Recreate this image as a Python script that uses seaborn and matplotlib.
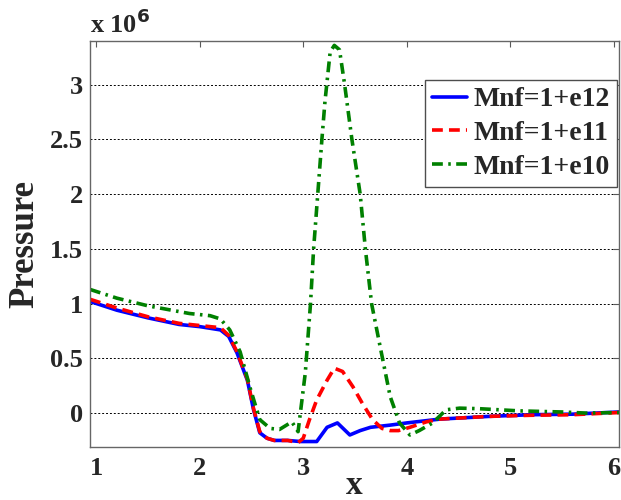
import numpy as np
import pandas as pd
import matplotlib
matplotlib.use('Agg')
import matplotlib.pyplot as plt
import seaborn as sns

# Pressure values in units of 1e6
x_e12 = [0.94, 1.2, 1.5, 1.8, 2.0, 2.2, 2.28, 2.36, 2.46, 2.52, 2.58, 2.65, 2.72, 2.85,
         2.97, 3.05, 3.13, 3.23, 3.33, 3.45, 3.55, 3.65, 3.84, 4.0, 4.32, 4.8, 5.2, 5.6, 6.05]
p_e12 = [1.02, 0.94, 0.87, 0.81, 0.79, 0.76, 0.70, 0.55, 0.30, 0.03, -0.18, -0.23, -0.25, -0.25,
         -0.26, -0.26, -0.26, -0.13, -0.09, -0.20, -0.16, -0.13, -0.11, -0.09, -0.055, -0.03,
         -0.015, -0.01, 0.01]

x_e11 = [0.94, 1.2, 1.5, 1.8, 2.0, 2.2, 2.28, 2.36, 2.46, 2.52, 2.58, 2.65, 2.72, 2.85, 2.95,
         3.0, 3.06, 3.13, 3.23, 3.30, 3.38, 3.48, 3.57, 3.67, 3.76, 3.84, 3.92, 4.03, 4.19, 4.32,
         4.8, 5.2, 5.6, 6.05]
p_e11 = [1.04, 0.96, 0.88, 0.82, 0.80, 0.78, 0.71, 0.56, 0.31, 0.04, -0.17, -0.23, -0.25, -0.25,
         -0.27, -0.23, -0.06, 0.12, 0.30, 0.41, 0.38, 0.24, 0.09, -0.06, -0.14, -0.16, -0.16,
         -0.13, -0.08, -0.055, -0.03, -0.02, -0.015, 0.005]

x_e10 = [0.94, 1.2, 1.5, 1.9, 2.1, 2.2, 2.29, 2.39, 2.49, 2.58, 2.68, 2.77, 2.89, 2.95, 3.02,
         3.07, 3.10, 3.14, 3.18, 3.21, 3.26, 3.30, 3.35, 3.40, 3.47, 3.55, 3.60, 3.66, 3.74,
         3.84, 3.93, 4.03, 4.12, 4.25, 4.38, 4.51, 4.70, 5.09, 5.5, 5.73, 6.05]
p_e10 = [1.13, 1.05, 0.98, 0.91, 0.89, 0.86, 0.76, 0.56, 0.22, -0.06, -0.14, -0.15, -0.08, -0.17,
         0.37, 1.0, 1.5, 2.0, 2.5, 2.85, 3.30, 3.36, 3.32, 3.0, 2.5, 2.0, 1.5, 1.0, 0.62, 0.15,
         -0.09, -0.20, -0.16, -0.09, 0.03, 0.045, 0.04, 0.02, 0.01, 0.0, 0.005]

labels = ['Mnf=1+e12', 'Mnf=1+e11', 'Mnf=1+e10']
x_ticks = [1, 2, 3, 4, 5, 6]
x_tick_labels = ['1', '2', '3', '4', '5', '6']
y_ticks = [0, 0.5, 1, 1.5, 2, 2.5, 3]
y_tick_labels = ['0', '0.5', '1', '1.5', '2', '2.5', '3']

sns.set_style('white')
plt.rcParams['font.family'] = ['Liberation Serif', 'DejaVu Serif']
plt.rcParams['font.weight'] = 'bold'

fig = plt.figure(figsize=(6.21, 5.0), dpi=100)
ax = fig.add_axes([90 / 621, 1 - 447 / 500, 529 / 621, 406 / 500])

series = [
    (x_e12, p_e12, labels[0], 'blue', '-'),
    (x_e11, p_e11, labels[1], 'red', (0, (3.0, 1.7))),
    (x_e10, p_e10, labels[2], 'green', (0, (3.0, 1.5, 0.7, 1.5))),
]
for xs, ps, lab, col, ls in series:
    df = pd.DataFrame({'x': xs, 'p': ps})
    sns.lineplot(data=df, x='x', y='p', ax=ax, color=col, linestyle=ls,
                 linewidth=2.6, label=lab, sort=False)

ax.set_xlim(0.94, 6.05)
ax.set_ylim(-0.31, 3.40)
ax.set_xticks(x_ticks)
ax.set_xticklabels(x_tick_labels)
ax.set_yticks(y_ticks)
ax.set_yticklabels(y_tick_labels)
ax.tick_params(axis='both', direction='in', length=4, width=0.8, color='0.35',
               top=True, right=True, labelsize=19)
ax.tick_params(axis='y', pad=5)
ax.tick_params(axis='x', pad=7)
for lab in ax.get_xticklabels() + ax.get_yticklabels():
    lab.set_fontweight('bold')
for sp in ax.spines.values():
    sp.set_color('0.4')
    sp.set_linewidth(1.0)

ax.yaxis.grid(True, linestyle=(0, (2, 2)), color='k', linewidth=0.7)
ax.xaxis.grid(False)
ax.set_axisbelow(True)

ax.set_xlabel('x', fontsize=24, fontweight='bold', labelpad=-7)
ax.set_ylabel('Pressure', fontsize=25, fontweight='bold', labelpad=6)
ax.text(0.0, 1.008, r'x 10$^{\mathbf{6}}$', transform=ax.transAxes, ha='left', va='bottom',
        fontsize=19, fontweight='bold')

leg = ax.legend(loc='upper right', bbox_to_anchor=(0.996, 0.904), borderaxespad=0,
                fancybox=False, framealpha=1, edgecolor='0.3', fontsize=20,
                handlelength=1.25, handletextpad=0.25, labelspacing=0.3, borderpad=0.25)
leg.get_frame().set_linewidth(1.0)
for t in leg.get_texts():
    t.set_fontweight('bold')

fig.savefig('out.png', dpi=100)
